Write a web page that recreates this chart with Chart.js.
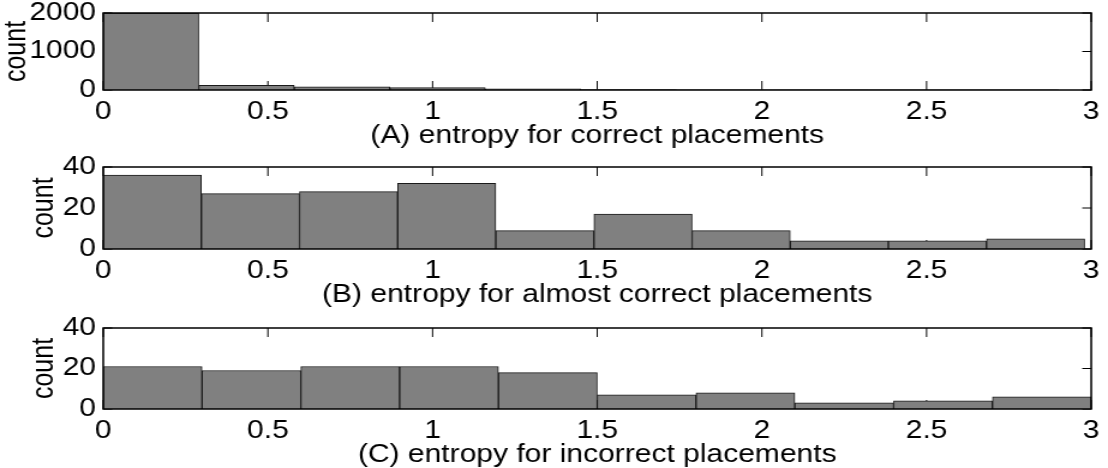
<!DOCTYPE html>
<html>
<head>
<meta charset="utf-8">
<script src="https://cdn.jsdelivr.net/npm/chart.js@4"></script>
<style>
  html, body { margin: 0; padding: 0; background: #fff; overflow: hidden; }
  body { width: 1108px; height: 468px; position: relative; }
  /* the original figure is stretched sideways, so each panel is drawn narrow and widened */
  .panel { position: absolute; left: 0; transform-origin: 0 0; transform: scaleX(1.2004); }
</style>
</head>
<body>
<div class="panel" style="top:-17px"><canvas id="chartA" width="923" height="167"></canvas></div>
<div class="panel" style="top:137px"><canvas id="chartB" width="923" height="172"></canvas></div>
<div class="panel" style="top:298px"><canvas id="chartC" width="923" height="171"></canvas></div>
<script>
// bin centres (entropy) and counts for each histogram
const binsA = [0.145, 0.435, 0.725, 1.015, 1.305, 1.595, 1.885, 2.175, 2.465, 2.755];
const countsA = [2000, 120, 85, 62, 30, 10, 4, 3, 2, 2];

const binsB = [0.149, 0.447, 0.745, 1.043, 1.341, 1.639, 1.937, 2.235, 2.533, 2.831];
const countsB = [36, 27, 28, 32, 9, 17, 9, 4, 4, 5];

const binsC = [0.15, 0.45, 0.75, 1.05, 1.35, 1.65, 1.95, 2.25, 2.55, 2.85];
const countsC = [21, 19, 21, 21, 18, 7, 8, 3, 4, 6];

const xTicks = [0, 0.5, 1, 1.5, 2, 2.5, 3];
const yTicksA = [0, 1000, 2000];
const yTicksB = [0, 20, 40];

const titles = [
  "(A) entropy for correct placements",
  "(B) entropy for almost correct placements",
  "(C) entropy for incorrect placements"
];

Chart.defaults.font.family = "'Liberation Sans', Arial, Helvetica, sans-serif";
Chart.defaults.font.size = 25;
Chart.defaults.color = "#000";

// MATLAB style axes box with ticks pointing inwards
const boxPlugin = {
  id: "matlabBox",
  beforeDatasetsDraw(chart) {
    const ctx = chart.ctx;
    const a = chart.chartArea;
    const xs = chart.scales.x, ys = chart.scales.y;
    ctx.save();
    ctx.strokeStyle = "#000";
    ctx.lineWidth = 1;
    ctx.beginPath();
    xs.ticks.forEach(t => {
      const px = xs.getPixelForValue(t.value);
      ctx.moveTo(px, a.bottom); ctx.lineTo(px, a.bottom - 9);
      ctx.moveTo(px, a.top); ctx.lineTo(px, a.top + 9);
    });
    ys.ticks.forEach(t => {
      const py = ys.getPixelForValue(t.value);
      ctx.moveTo(a.left, py); ctx.lineTo(a.left + 7.5, py);
      ctx.moveTo(a.right, py); ctx.lineTo(a.right - 7.5, py);
    });
    ctx.stroke();
    ctx.restore();
  },
  afterDatasetsDraw(chart) {
    const ctx = chart.ctx;
    const a = chart.chartArea;
    ctx.save();
    ctx.strokeStyle = "#000";
    ctx.lineWidth = 1.5;
    ctx.strokeRect(a.left, a.top, a.right - a.left, a.bottom - a.top);
    ctx.restore();
  }
};

function makeHist(canvasId, bins, counts, yTicks, title, countPad) {
  const pts = bins.map((b, i) => ({ x: b, y: counts[i] }));
  return new Chart(document.getElementById(canvasId), {
    type: "bar",
    data: {
      datasets: [{
        data: pts,
        backgroundColor: "#808080",
        borderColor: "#1a1a1a",
        borderWidth: 1,
        borderSkipped: "bottom",
        barPercentage: 1,
        categoryPercentage: 1
      }]
    },
    options: {
      responsive: false,
      animation: false,
      layout: { padding: { top: 30, right: 8, bottom: 0, left: 0 } },
      plugins: { legend: { display: false }, tooltip: { enabled: false } },
      scales: {
        x: {
          type: "linear",
          min: 0,
          max: 3,
          offset: false,
          grid: { display: false, offset: false, drawTicks: false },
          border: { display: false },
          afterBuildTicks: s => { s.ticks = xTicks.map(v => ({ value: v })); },
          afterFit: s => { s.height = 60; },
          ticks: {
            autoSkip: false,
            maxRotation: 0,
            padding: 7,
            callback: v => String(v)
          },
          title: { display: true, text: title, padding: { top: 0, bottom: -1 } }
        },
        y: {
          min: yTicks[0],
          max: yTicks[yTicks.length - 1],
          grid: { display: false, drawTicks: false },
          border: { display: false },
          afterBuildTicks: s => { s.ticks = yTicks.map(v => ({ value: v })); },
          afterFit: s => { s.width = 86; },
          ticks: { padding: 6, callback: v => String(v) },
          title: { display: true, text: "count", padding: { top: countPad, bottom: 0 } }
        }
      }
    },
    plugins: [boxPlugin]
  });
}

makeHist("chartA", binsA, countsA, yTicksA, titles[0], -1);
makeHist("chartB", binsB, countsB, yTicksB, titles[1], 22);
makeHist("chartC", binsC, countsC, yTicksB, titles[2], 22);
</script>
</body>
</html>
